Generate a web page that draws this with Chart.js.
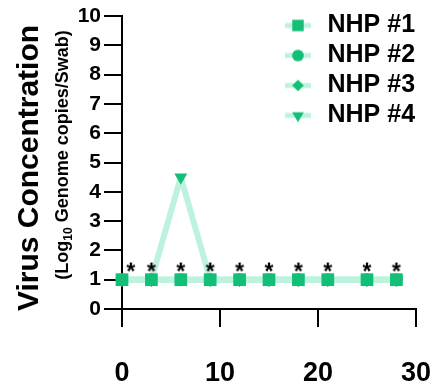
<!DOCTYPE html>
<html>
<head>
<meta charset="utf-8">
<script src="https://cdn.jsdelivr.net/npm/chart.js@4.4.0/dist/chart.umd.min.js"></script>
<style>
  html, body { margin: 0; padding: 0; background: #fff; }
</style>
</head>
<body>
<canvas id="myChart" width="436" height="386"></canvas>
<script>
// values
const days = [0, 3, 6, 9, 12, 15, 18, 21, 25, 28];
const nhp1 = [1, 1, 1, 1, 1, 1, 1, 1, 1, 1];
const nhp2 = [1, 1, 1, 1, 1, 1, 1, 1, 1, 1];
const nhp3 = [1, 1, 1, 1, 1, 1, 1, 1, 1, 1];
const nhp4 = [1, 1, 4.5, 1, 1, 1, 1, 1, 1, 1];
const seriesNames = ["NHP #1", "NHP #2", "NHP #3", "NHP #4"];
const starDays = [0.9, 3, 6, 9, 12, 15, 18, 21, 25, 28];
const starLevel = 1.45;
const yTicks = [0, 1, 2, 3, 4, 5, 6, 7, 8, 9, 10];
const xTicks = [0, 10, 20, 30];

const FONT = '"Liberation Sans", Arial, sans-serif';
const GREEN = "#13bf77";
const MINT = "#bdf3de";

Chart.defaults.font.family = FONT;
Chart.defaults.color = "#000";

const styles = [
  { pointStyle: "rect", radius: 9, rotation: 0 },
  { pointStyle: "circle", radius: 6.5, rotation: 0 },
  { pointStyle: "rectRot", radius: 6.5, rotation: 0 },
  { pointStyle: "triangle", radius: 7.5, rotation: 180 },
];

// legend icon: short mint line with the marker on top
function legendIcon(st) {
  const c = document.createElement("canvas");
  c.width = 26;
  c.height = 16;
  const g = c.getContext("2d");
  g.fillStyle = MINT;
  g.fillRect(0, 5.5, 26, 5);
  g.fillStyle = GREEN;
  g.strokeStyle = GREEN;
  Chart.helpers.drawPoint(g, { pointStyle: st.pointStyle, radius: st.radius * 0.9, rotation: st.rotation, borderWidth: 0 }, 13, 8);
  return c;
}

function starIcon() {
  const c = document.createElement("canvas");
  c.width = 22;
  c.height = 22;
  const g = c.getContext("2d");
  g.fillStyle = "#000";
  g.font = "bold 23px " + FONT;
  g.textAlign = "center";
  g.textBaseline = "alphabetic";
  g.fillText("*", 11, 11 + 0.56 * 23);
  return c;
}

const seriesValues = [nhp1, nhp2, nhp3, nhp4];
const datasets = seriesValues.map((vals, i) => ({
  label: seriesNames[i],
  data: days.map((d, j) => ({ x: d, y: vals[j] })),
  borderColor: MINT,
  borderWidth: 6,
  borderJoinStyle: "round",
  backgroundColor: GREEN,
  pointBackgroundColor: GREEN,
  pointBorderWidth: 0,
  pointStyle: styles[i].pointStyle,
  pointRadius: styles[i].radius,
  pointRotation: styles[i].rotation,
  tension: 0,
  clip: false,
}));

// significance stars, drawn on top of everything
datasets.push({
  type: "scatter",
  label: "stars",
  data: starDays.map((d) => ({ x: d, y: starLevel })),
  pointStyle: starIcon(),
  showLine: false,
  clip: false,
  order: -1,
});

const icons = styles.map(legendIcon);

const titlePlugin = {
  id: "yTitles",
  beforeDraw(chart) {
    const ctx = chart.ctx;
    // place the legend at top right, inside the plot
    const lg = chart.legend;
    lg.left = 276;
    lg.right = 436;
    lg.top = 8;
    lg.bottom = 170;

    ctx.save();
    ctx.fillStyle = "#000";
    ctx.translate(38, 168);
    ctx.rotate(-Math.PI / 2);
    ctx.font = "bold 30px " + FONT;
    ctx.textAlign = "center";
    ctx.textBaseline = "alphabetic";
    ctx.fillText("Virus Concentration", 0, 0);
    ctx.restore();

    ctx.save();
    ctx.fillStyle = "#000";
    ctx.translate(68, 155);
    ctx.rotate(-Math.PI / 2);
    ctx.textAlign = "left";
    ctx.textBaseline = "alphabetic";
    const big = "bold 18px " + FONT;
    const small = "bold 12px " + FONT;
    const parts = [["(Log", big, 0], ["10", small, 4], [" Genome copies/Swab)", big, 0]];
    let total = 0;
    parts.forEach((p) => { ctx.font = p[1]; total += ctx.measureText(p[0]).width; });
    let x = -total / 2;
    parts.forEach((p) => {
      ctx.font = p[1];
      ctx.fillText(p[0], x, p[2]);
      x += ctx.measureText(p[0]).width;
    });
    ctx.restore();
  },
};

const config = {
  type: "line",
  data: { datasets: datasets },
  options: {
    responsive: false,
    animation: false,
    layout: { padding: { top: 16, right: 20, bottom: 0, left: 0 } },
    plugins: {
      legend: {
        position: "chartArea",
        align: "start",
        labels: {
          usePointStyle: true,
          pointStyleWidth: 34,
          padding: 5,
          color: "#000",
          font: { size: 25, weight: "bold" },
          generateLabels(chart) {
            const items = Chart.defaults.plugins.legend.labels.generateLabels(chart);
            return items
              .filter((it) => it.datasetIndex < 4)
              .map((it) => Object.assign(it, { pointStyle: icons[it.datasetIndex], rotation: 0 }));
          },
        },
      },
      tooltip: { enabled: false },
    },
    scales: {
      x: {
        type: "linear",
        min: 0,
        max: 30,
        afterBuildTicks(s) { s.ticks = xTicks.map((v) => ({ value: v })); },
        afterFit(s) { s.height = 77; s.paddingLeft = 0; s.paddingRight = 0; },
        grid: { drawOnChartArea: false, drawTicks: true, tickLength: 18, color: "#000", lineWidth: 2 },
        border: { display: true, color: "#000", width: 2 },
        ticks: { padding: 30, font: { size: 27, weight: "bold" }, color: "#000", maxRotation: 0 },
      },
      y: {
        min: 0,
        max: 10,
        afterBuildTicks(s) { s.ticks = yTicks.map((v) => ({ value: v })); },
        afterFit(s) { s.width = 122; s.paddingTop = 0; s.paddingBottom = 0; },
        grid: { drawOnChartArea: false, drawTicks: true, tickLength: 18, color: "#000", lineWidth: 2 },
        border: { display: true, color: "#000", width: 2 },
        ticks: { padding: 3, font: { size: 21, weight: "bold" }, color: "#000" },
      },
    },
  },
  plugins: [titlePlugin],
};

const ctx = document.getElementById("myChart");
const myChart = new Chart(ctx, config);
</script>
</body>
</html>
